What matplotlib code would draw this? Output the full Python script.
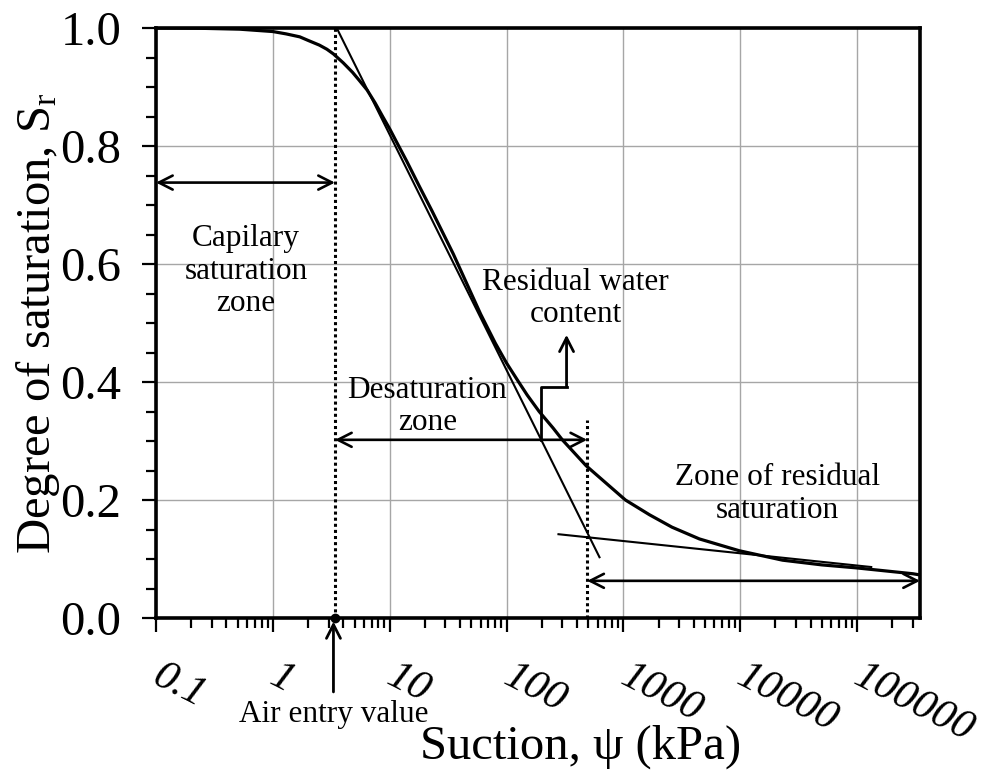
import matplotlib
matplotlib.use('Agg')
import matplotlib.pyplot as plt
from matplotlib.ticker import LogLocator, MultipleLocator, NullFormatter
from matplotlib.transforms import ScaledTranslation

plt.rcParams['font.family'] = ['Liberation Serif', 'DejaVu Serif']
plt.rcParams['mathtext.fontset'] = 'custom'
plt.rcParams['mathtext.rm'] = 'Liberation Serif'
plt.rcParams['mathtext.it'] = 'Liberation Serif:italic'

# curva de retenção
suction = [0.1, 0.24, 0.52, 1.0, 1.3, 1.7, 2.0, 2.5, 2.9, 3.3, 4.0, 4.8,
           5.5, 6.4, 7.5, 8.7, 10, 11.5, 14, 18, 23, 35, 60, 80, 100, 125,
           150, 190, 250, 300, 480, 1040, 1670, 2600, 4470, 9800, 23000,
           50000, 98000, 300000, 345000]
sr = [1.0, 0.9995, 0.998, 0.994, 0.990, 0.985, 0.979, 0.971, 0.964, 0.956,
      0.941, 0.925, 0.911, 0.895, 0.873, 0.850, 0.829, 0.806, 0.774, 0.731,
      0.690, 0.617, 0.515, 0.466, 0.432, 0.402, 0.378, 0.350, 0.322, 0.302,
      0.258, 0.200, 0.175, 0.154, 0.134, 0.114, 0.098, 0.090, 0.085, 0.075,
      0.073]

# retas tangentes
tang1_x = [3.52, 624]
tang1_y = [1.0, 0.103]
tang2_x = [278, 132000]
tang2_y = [0.142, 0.0864]

air_entry = 3.4
residual = 490

xticks = [0.1, 1, 10, 100, 1000, 10000, 100000]
xlabels = ['0.1', '1', '10', '100', '1000', '10000', '100000']
yticks = [0.0, 0.2, 0.4, 0.6, 0.8, 1.0]

fig = plt.figure(figsize=(9.9, 7.71), dpi=100)
ax = fig.add_axes([156 / 990, 153 / 771, 764 / 990, 590 / 771])

ax.set_xscale('log')
ax.set_xlim(0.1, 345000)
ax.set_ylim(0, 1)

ax.grid(True, which='major', color='#a6a6a6', lw=1.0)
ax.set_axisbelow(True)

ax.plot(suction, sr, color='k', lw=2.3, solid_joinstyle='round')
ax.plot(tang1_x, tang1_y, color='k', lw=1.5)
ax.plot(tang2_x, tang2_y, color='k', lw=1.5)

# linhas pontilhadas
ax.plot([air_entry, air_entry], [0, 1], color='k', lw=2.2, ls=(0, (1, 1)))
ax.plot([residual, residual], [0, 0.336], color='k', lw=2.2, ls=(0, (1, 1)))
ax.plot(air_entry, 0, 'o', color='k', ms=6, clip_on=False, zorder=5)

arrow = dict(arrowstyle='<->,head_length=0.55,head_width=0.28', color='k',
             lw=1.9, mutation_scale=18, shrinkA=0, shrinkB=0)
ax.annotate('', xy=(air_entry, 0.738), xytext=(0.1, 0.738), arrowprops=arrow)
ax.annotate('', xy=(residual, 0.302), xytext=(air_entry, 0.302), arrowprops=arrow)
ax.annotate('', xy=(345000, 0.063), xytext=(residual, 0.063), arrowprops=arrow)

# seta do teor de água residual
ax.plot([199, 199, 326], [0.302, 0.392, 0.392], color='k', lw=2.0)
ax.annotate('', xy=(326, 0.48), xytext=(326, 0.392),
            arrowprops=dict(arrowstyle='->,head_length=0.55,head_width=0.28',
                            color='k', lw=2.0, mutation_scale=18,
                            shrinkA=0, shrinkB=0))

ax.annotate('Air entry value', xy=(3.3, -0.006), xytext=(3.3, -0.164),
            ha='center', va='center', fontsize=22.5, annotation_clip=False,
            arrowprops=dict(arrowstyle='->,head_length=0.55,head_width=0.28',
                            color='k', lw=2.0, mutation_scale=18,
                            shrinkA=4, shrinkB=0))

ax.text(0.59, 0.588, 'Capilary\nsaturation\nzone', ha='center', va='center',
        fontsize=22.5, linespacing=1.15)
ax.text(21, 0.359, 'Desaturation\nzone', ha='center', va='center',
        fontsize=22.5, linespacing=1.15)
ax.text(390, 0.541, 'Residual water\ncontent', ha='center', va='center',
        fontsize=22.5, linespacing=1.15)
ax.text(20700, 0.21, 'Zone of residual\nsaturation', ha='center', va='center',
        fontsize=22.5, linespacing=1.15)

ax.set_xticks(xticks)
ax.set_xticklabels(xlabels, fontstyle='italic', rotation=-27, fontsize=31,
                   rotation_mode='anchor', ha='left', va='top')
ax.xaxis.set_minor_locator(LogLocator(base=10, subs=range(2, 10), numticks=20))
ax.xaxis.set_minor_formatter(NullFormatter())
ax.set_yticks(yticks)
ax.set_yticklabels([f'{v:.1f}' for v in yticks], fontsize=35)
ax.yaxis.set_minor_locator(MultipleLocator(0.05))

ax.tick_params(axis='both', which='major', direction='out', length=10,
               width=1.6)
ax.tick_params(axis='both', which='minor', direction='out', length=7,
               width=1.6)
ax.tick_params(axis='x', which='major', pad=18)
ax.tick_params(axis='y', which='major', pad=15)

offset = ScaledTranslation(8 / 100, 0, fig.dpi_scale_trans)
for lab in ax.get_xticklabels():
    lab.set_transform(lab.get_transform() + offset)

for s in ax.spines.values():
    s.set_linewidth(2.6)

ax.set_xlabel('Suction, ψ (kPa)', fontsize=35)
ax.xaxis.set_label_coords(0.556, -0.18)
ax.set_ylabel(r'Degree of saturation, S$_\mathrm{r}$', fontsize=35)
ax.yaxis.set_label_coords(-0.123, 0.5)

fig.savefig('out.png', dpi=100)
